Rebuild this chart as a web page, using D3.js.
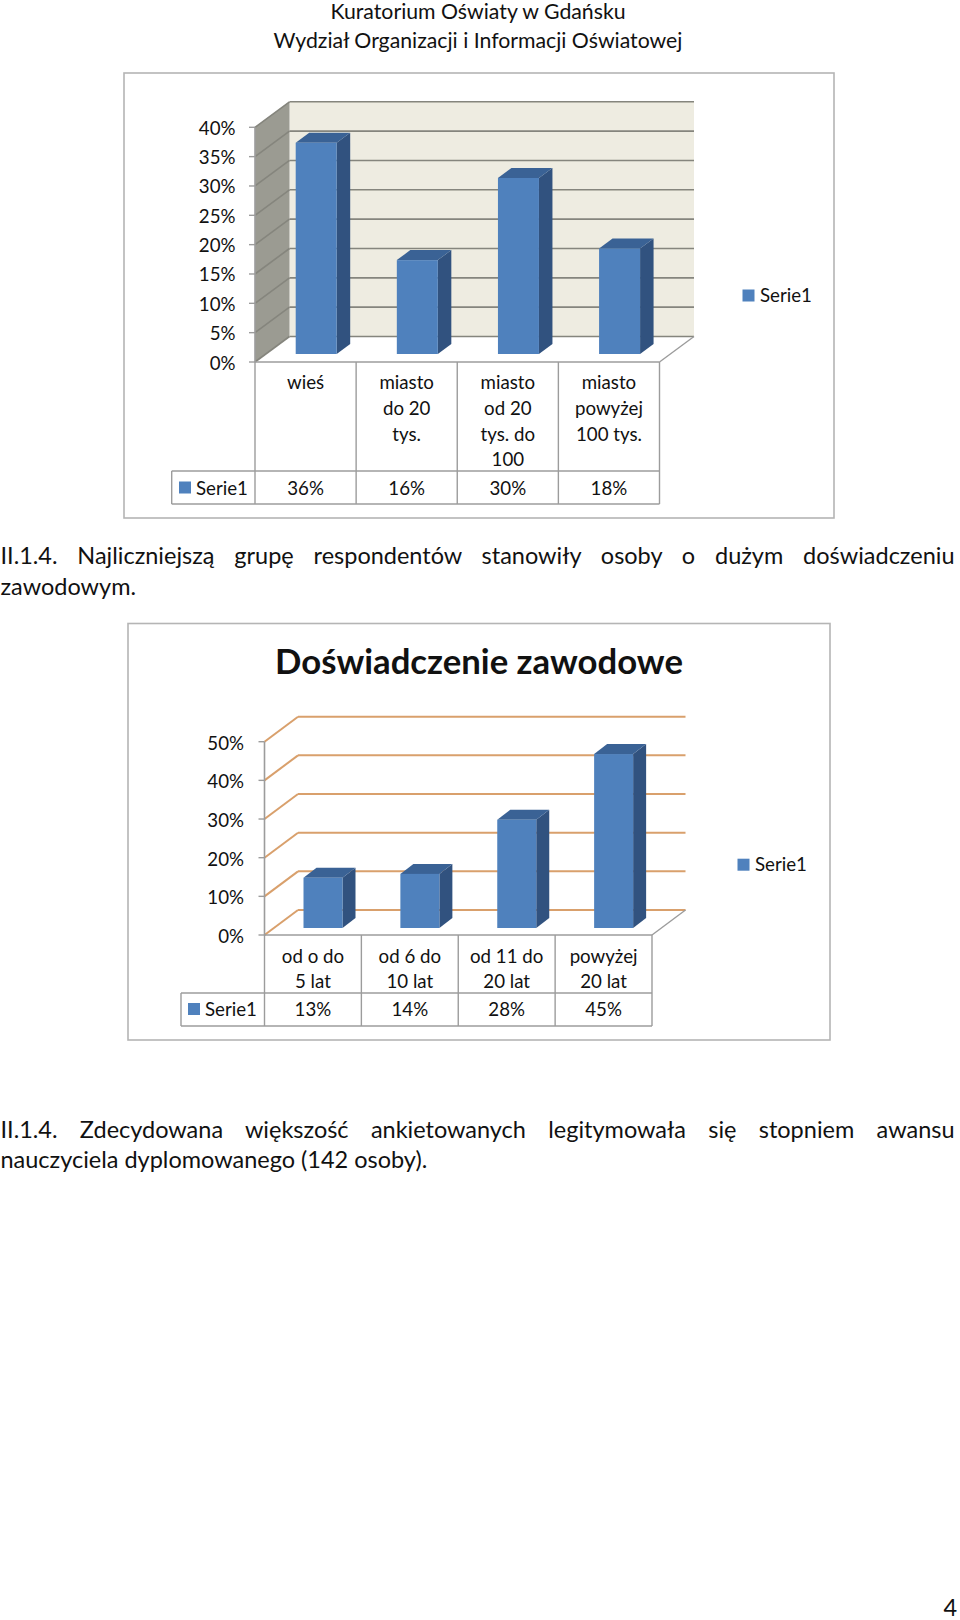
<!DOCTYPE html>
<html lang="pl"><head><meta charset="utf-8">
<style>html,body{margin:0;padding:0;background:#fff}svg{display:block}text{font-family:Lato,Carlito,sans-serif;fill:#111}</style>
<script src="https://cdnjs.cloudflare.com/ajax/libs/d3/7.8.5/d3.min.js"></script>
</head><body><div id="c"></div>
<script>
// ---- data ----
const seriesName = "Serie1";
const placeCategories = [["wieś"],["miasto","do 20","tys."],["miasto","od 20","tys. do","100"],["miasto","powyżej","100 tys."]];
const placeValues = [36,16,30,18];
const placeTicks = [0,5,10,15,20,25,30,35,40];
const expCategories = [["od o do","5 lat"],["od 6 do","10 lat"],["od 11 do","20 lat"],["powyżej","20 lat"]];
const expValues = [13,14,28,45];
const expTicks = [0,10,20,30,40,50];
const headerLines = ["Kuratorium Oświaty w Gdańsku","Wydział Organizacji i Informacji Oświatowej"];
const para1 = ["II.1.4. Najliczniejszą grupę respondentów stanowiły osoby o dużym doświadczeniu","zawodowym."];
const para2 = ["II.1.4. Zdecydowana większość ankietowanych legitymowała się stopniem awansu","nauczyciela dyplomowanego (142 osoby)."];
const chartTitle = "Doświadczenie zawodowe";
const pageNumber = "4";

const svg = d3.select("#c").append("svg").attr("width",960).attr("height",1620).attr("viewBox","0 0 960 1620");
const ctx = document.createElement("canvas").getContext("2d");
function fit(txt,w,weight){ctx.font=(weight||"400")+" 100px Lato";return 100*w/ctx.measureText(txt).width;}
const fsHead = fit(headerLines[1],410), fsBody = fit(para2[1],427), fsChart = fit("Serie1",52), fsTitle = fit(chartTitle,408,"700");
const C={front:"#4f81bd",side:"#31527f",top:"#3a6295",frame:"#b5b5b5",tbl:"#9c9c9c"};
const poly=(g,pts,fill,stroke)=>g.append("polygon").attr("points",pts.map(p=>p.join(",")).join(" ")).attr("fill",fill).attr("stroke",stroke||"none");
const line=(g,x1,y1,x2,y2,c,w)=>g.append("line").attr("x1",x1).attr("y1",y1).attr("x2",x2).attr("y2",y2).attr("stroke",c).attr("stroke-width",w);
const label=(g,t,x,y,a,fs,wt)=>g.append("text").text(t).attr("x",x).attr("y",y).attr("text-anchor",a||"start").attr("font-size",fs||fsChart).attr("font-weight",wt||400);

function chart(o){
  const g=svg.append("g");
  g.append("rect").attr("x",o.frame[0]).attr("y",o.frame[1]).attr("width",o.frame[2]-o.frame[0]).attr("height",o.frame[3]-o.frame[1]).attr("fill","#fff").attr("stroke",C.frame).attr("stroke-width",1.6);
  const y=d3.scaleLinear().domain([0,d3.max(o.ticks)]).range([o.floor,o.top]);
  const x=d3.scaleBand().domain(d3.range(o.cats.length)).range([o.left,o.right]);
  const dx=o.dx,dy=o.dy;
  // walls
  if(o.wall){
    poly(g,[[o.left+dx,y.range()[1]-dy],[o.right+dx,y.range()[1]-dy],[o.right+dx,o.floor-dy],[o.left+dx,o.floor-dy]],o.wall);
    poly(g,[[o.left,o.top],[o.left+dx,o.top-dy],[o.left+dx,o.floor-dy],[o.left,o.floor]],o.sideWall);
  }
  // gridlines and ticks
  o.ticks.forEach(t=>{
    const yy=y(t);
    line(g,o.left,yy,o.left+dx,yy-dy,o.grid,o.gridW);
    line(g,o.left+dx,yy-dy,o.right+dx,yy-dy,o.grid,o.gridW);
    line(g,o.left-6,yy,o.left,yy,C.tbl,1.4);
    label(g,t+"%",o.labelX,yy+o.labelDy,"end");
  });
  line(g,o.right,o.floor,o.right+dx,o.floor-dy,C.tbl,1.4);
  line(g,o.left,o.top,o.left,o.floor,C.tbl,1.6);
  // bars
  o.values.forEach((v,i)=>{
    const x0=x(i)+o.barOff,x1=x0+o.barW,b=o.floor-o.barLift,t=b-(y(0)-y(v)),d=o.barD,e=o.barE;
    poly(g,[[x1,t],[x1+d,t-e],[x1+d,b-e],[x1,b]],C.side);
    poly(g,[[x0,t],[x0+d,t-e],[x1+d,t-e],[x1,t]],C.top);
    g.append("rect").attr("x",x0).attr("y",t).attr("width",o.barW).attr("height",b-t).attr("fill",C.front);
  });
  // data table
  const tb=o.table;
  line(g,o.left,o.floor,o.right,o.floor,C.tbl,1.6);
  line(g,tb.left,tb.mid,o.right,tb.mid,C.tbl,1.4);
  line(g,tb.left,tb.bot,o.right,tb.bot,C.tbl,1.6);
  line(g,tb.left,tb.mid,tb.left,tb.bot,C.tbl,1.4);
  d3.range(o.cats.length+1).forEach(i=>{const xx=i<o.cats.length?x(i):o.right;line(g,xx,o.floor,xx,tb.bot,C.tbl,1.4);});
  o.cats.forEach((c,i)=>{
    const cx=x(i)+x.bandwidth()/2;
    c.forEach((l,j)=>label(g,l,cx,tb.catBase+j*25.6,"middle"));
    label(g,o.values[i]+"%",cx,tb.valBase,"middle");
  });
  g.append("rect").attr("x",tb.swX).attr("y",tb.swY).attr("width",12).attr("height",12).attr("fill",C.front);
  label(g,seriesName,tb.swX+17,tb.valBase);
  g.append("rect").attr("x",o.legend[0]).attr("y",o.legend[1]).attr("width",12).attr("height",12).attr("fill",C.front);
  label(g,seriesName,o.legend[0]+17.5,o.legend[1]+12.5);
}

chart({frame:[124,73,834,518],cats:placeCategories,values:placeValues,ticks:placeTicks,
  left:255,right:659.5,floor:362,top:127.3,dx:34.5,dy:25.5,wall:"#eeece1",sideWall:"#9b9b92",grid:"#85857d",gridW:1.6,
  labelX:235.5,labelDy:7.5,barOff:40.7,barW:41,barD:13.5,barE:10,barLift:8,
  table:{left:171.7,mid:471,bot:504,catBase:389.3,valBase:495,swX:179,swY:481.5},legend:[742.5,289.5]});
chart({frame:[128,623.5,830,1040],cats:expCategories,values:expValues,ticks:expTicks,
  left:264.5,right:652,floor:935,top:741.7,dx:33.5,dy:25,wall:null,grid:"#d9a06c",gridW:2,
  labelX:244,labelDy:8,barOff:39,barW:39,barD:13,barE:10,barLift:7,
  table:{left:181,mid:993,bot:1026,catBase:962.7,valBase:1016,swX:188,swY:1003},legend:[737.5,858.7]});

label(svg,chartTitle,479,674,"middle",fsTitle,700);
headerLines.forEach((l,i)=>label(svg,l,478,[19,48][i],"middle",fsHead));
function para(lines,bases){
  lines.forEach((l,i)=>{
    const t=label(svg,l,0.5,bases[i],"start",fsBody);
    if(i===0){const n=l.split(" ").length-1;t.attr("word-spacing",(954-t.node().getComputedTextLength())/n);}
  });
}
para(para1,[564,595]);
para(para2,[1138,1168]);
label(svg,pageNumber,957,1616,"end",fsBody);
</script></body></html>
